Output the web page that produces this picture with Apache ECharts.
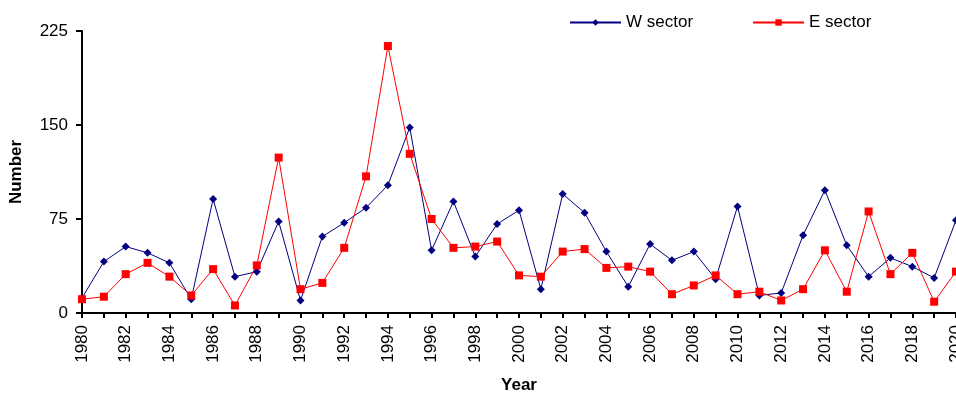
<!DOCTYPE html>
<html><head><meta charset="utf-8">
<script src="https://cdn.jsdelivr.net/npm/echarts@6/dist/echarts.min.js"></script>
<style>html,body{margin:0;padding:0;background:#fff}#c{width:956px;height:394px}</style>
</head><body><div id="c"></div>
<script>
const years = [];
for (let y = 1980; y <= 2020; y++) years.push(y);
const wSector = [12,41,53,48,40,11,91,29,33,73,10,61,72,84,102,148,50,89,45,71,82,19,95,80,49,21,55,42,49,27,85,14,16,62,98,54,29,44,37,28,74];
const eSector = [11,13,31,40,29,14,35,6,38,124,19,24,52,109,213,127,75,52,53,57,30,29,49,51,36,37,33,15,22,30,15,17,10,19,50,17,81,31,48,9,33];
const yTicks = [0,75,150,225];
const chart = echarts.init(document.getElementById('c'));
const font = 'Arial, "Liberation Sans", sans-serif';
chart.setOption({
  animation:false,
  backgroundColor:'#fff',
  grid:{left:82,right:0,top:31,bottom:81,containLabel:false,outerBoundsMode:'none'},
  legend:{
    left:564, top:9, itemWidth:51, itemHeight:8, itemGap:59,
    textStyle:{fontFamily:font,fontSize:17,color:'#000'},
    data:['W sector','E sector']
  },
  xAxis:{
    type:'value', min:1980, max:2020, interval:1,
    name:'Year', nameLocation:'middle', nameGap:64,
    nameTextStyle:{fontFamily:font,fontSize:17,fontWeight:'bold',color:'#000'},
    axisLine:{lineStyle:{color:'#000',width:2}},
    axisTick:{lineStyle:{color:'#000',width:2},length:5},
    splitLine:{show:false},
    axisLabel:{rotate:90,margin:12,fontFamily:font,fontSize:17,color:'#000',
      formatter:v=> (v%2===0? String(v):''), showMaxLabel:true, showMinLabel:true}
  },
  yAxis:{
    type:'value', min:yTicks[0], max:yTicks[yTicks.length-1], interval:75,
    name:'Number', nameLocation:'middle', nameGap:57,
    nameTextStyle:{fontFamily:font,fontSize:17,fontWeight:'bold',color:'#000'},
    axisLine:{show:true,lineStyle:{color:'#000',width:2}},
    axisTick:{show:true,lineStyle:{color:'#000',width:2},length:6},
    splitLine:{show:false},
    axisLabel:{margin:14,fontFamily:font,fontSize:17,color:'#000'}
  },
  series:[
    {name:'W sector',type:'line',data:years.map((y,i)=>[y,wSector[i]]),
     symbol:'diamond',symbolSize:8,color:'#000080',lineStyle:{width:1,color:'#000080'},itemStyle:{color:'#000080'}},
    {name:'E sector',type:'line',data:years.map((y,i)=>[y,eSector[i]]),
     symbol:'rect',symbolSize:8,color:'#ff0000',lineStyle:{width:1,color:'#ff0000'},itemStyle:{color:'#ff0000'}}
  ]
});
</script></body></html>
